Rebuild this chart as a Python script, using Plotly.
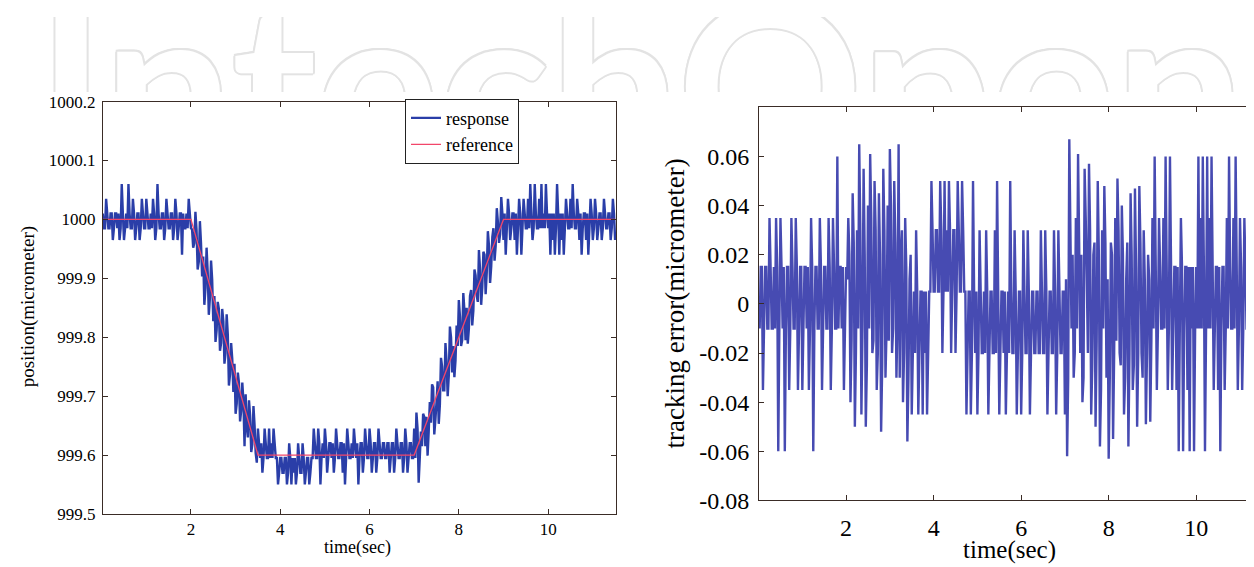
import plotly.graph_objects as go

# ---------------- data ----------------
SAMPLE_STEP_S = 0.025  # sampling period of the recorded signals

tracking_error = [
    # 0.025 .. 2.000 s
    -0.01, 0.015, 0.015, -0.035, -0.01, 0.015, 0.015, -0.01, -0.01, 0.035,
    0.015, -0.01, -0.01, 0.015, -0.01, 0.035, 0.015, -0.06, -0.01, 0.035,
    0.015, -0.01, 0.015, -0.06, -0.01, 0.015, 0.015, -0.035, -0.01, 0.035,
    0.015, -0.01, -0.01, 0.035, 0.015, -0.035, -0.01, 0.015, 0.015, -0.035,
    -0.01, 0.015, 0.015, -0.01, 0.015, -0.035, -0.01, 0.035, 0.015, -0.06,
    -0.01, 0.015, 0.015, -0.01, -0.01, 0.035, 0.015, -0.035, -0.01, 0.015,
    0.015, -0.01, -0.01, 0.035, 0.015, -0.035, -0.01, 0.035, 0.015, -0.01,
    -0.01, 0.06, -0.01, 0.015, 0.015, -0.01, 0.015, -0.035, -0.01, 0.015,
    # 2.025 .. 3.500 s
    0.01, 0.035, 0.02, -0.04, -0.015, 0.045, 0.025, -0.05, -0.02, 0.03,
    -0.01, 0.065, 0.03, -0.045, -0.01, 0.055, 0.02, -0.05, -0.025, 0.04,
    -0.01, 0.061, 0.035, -0.02, -0.015, 0.05, 0.03, -0.035, -0.02, 0.045,
    0.02, -0.052, -0.025, 0.055, 0.03, -0.03, -0.01, 0.04, -0.015, 0.063,
    0.04, -0.02, -0.01, 0.05, 0.025, -0.03, -0.005, 0.065, -0.03, 0.02,
    0.03, -0.04, -0.02, 0.035, 0.015, -0.056, -0.03, 0.01, 0.02, -0.045,
    # 3.525 .. 7.000 s
    -0.02, 0.005, -0.02, 0.03, 0.005, -0.045, -0.02, 0.005, 0.005, -0.045,
    0.005, -0.02, 0.005, -0.045, -0.02, 0.005, 0.005, 0.05, 0.03, 0.005,
    0.005, 0.03, 0.03, 0.005, 0.005, 0.05, 0.03, -0.02, 0.005, 0.05,
    0.005, 0.03, 0.005, 0.05, 0.03, -0.02, 0.005, 0.03, 0.03, -0.02,
    0.005, 0.05, 0.03, 0.005, 0.005, 0.05, 0.03, 0.005, 0.005, -0.045,
    -0.02, 0.005, 0.005, -0.045, -0.02, 0.05, 0.005, -0.02, 0.005, -0.045,
    -0.02, 0.03, 0.005, -0.02, -0.02, 0.005, -0.02, 0.03, 0.005, -0.045,
    -0.02, 0.005, 0.005, -0.02, -0.02, 0.03, -0.02, 0.05, 0.005, -0.045,
    -0.02, 0.005, 0.005, -0.02, 0.005, -0.045, -0.02, 0.005, -0.02, 0.05,
    0.005, -0.02, -0.02, 0.03, 0.005, -0.045, -0.02, 0.005, 0.005, -0.045,
    -0.02, 0.03, 0.005, -0.02, -0.02, 0.03, 0.005, -0.045, -0.02, 0.005,
    0.005, -0.02, -0.02, 0.005, 0.005, -0.02, -0.02, 0.03, 0.005, -0.02,
    -0.02, 0.03, 0.005, -0.045, -0.02, 0.005, 0.005, -0.02, -0.02, 0.03,
    0.005, -0.045, -0.02, 0.03, 0.005, -0.02, -0.02, 0.005, 0.005, -0.045,
    # 7.025 .. 9.000 s
    0.01, -0.062, -0.03, 0.067, 0.03, -0.01, 0.02, -0.03, -0.02, 0.035,
    -0.01, 0.061, 0.025, -0.02, 0.02, -0.04, -0.03, 0.055, 0.035, 0.01,
    -0.02, 0.057, 0.03, -0.045, -0.025, 0.02, 0.025, -0.05, -0.015, 0.05,
    0.02, -0.058, -0.035, 0.03, -0.01, 0.048, 0.025, -0.03, 0.01, -0.063,
    -0.03, 0.025, 0.02, -0.055, -0.02, 0.035, -0.015, 0.051, 0.03, -0.02,
    -0.025, 0.04, 0.02, -0.045, -0.03, 0.01, 0.025, -0.058, -0.02, 0.045,
    0.02, -0.035, -0.025, 0.047, 0.015, -0.05, -0.02, 0.048, 0.025, -0.02,
    -0.03, 0.03, 0.01, -0.049, -0.02, 0.02, 0.01, -0.048, -0.015, 0.035,
    # 9.025 .. 11.500 s
    -0.01, 0.06, 0.015, -0.035, -0.01, 0.035, 0.015, -0.01, -0.01, 0.035,
    -0.01, 0.06, 0.015, -0.035, -0.01, 0.06, 0.015, -0.035, -0.01, 0.015,
    0.015, -0.035, 0.015, -0.06, -0.01, 0.035, 0.015, -0.06, -0.01, 0.015,
    0.015, -0.035, 0.015, -0.06, 0.015, -0.01, 0.015, -0.06, -0.01, 0.015,
    -0.01, 0.06, -0.01, 0.035, -0.01, 0.06, 0.015, -0.06, -0.01, 0.06,
    -0.01, 0.035, -0.01, 0.06, 0.015, -0.035, -0.01, 0.015, 0.015, -0.035,
    0.015, -0.06, -0.01, 0.015, 0.015, -0.035, -0.01, 0.035, -0.01, 0.06,
    0.015, -0.01, -0.01, 0.035, -0.01, 0.06, 0.015, -0.035, -0.01, 0.035,
    0.015, -0.035, -0.01, 0.035, 0.015, -0.01, -0.01, 0.035, 0.015, -0.035,
    -0.01, 0.015, 0.015, -0.01, -0.01, 0.035, 0.015, -0.035, -0.01, 0.035,
]

position_response = [
    # 0.025 .. 2.000 s
    1000.01, 999.985, 999.985, 1000.035, 1000.01, 999.985, 999.985, 1000.01, 1000.01, 999.965,
    999.985, 1000.01, 1000.01, 999.985, 1000.01, 999.965, 999.985, 1000.06, 1000.01, 999.965,
    999.985, 1000.01, 999.985, 1000.06, 1000.01, 999.985, 999.985, 1000.035, 1000.01, 999.965,
    999.985, 1000.01, 1000.01, 999.965, 999.985, 1000.035, 1000.01, 999.985, 999.985, 1000.035,
    1000.01, 999.985, 999.985, 1000.01, 999.985, 1000.035, 1000.01, 999.965, 999.985, 1000.06,
    1000.01, 999.985, 999.985, 1000.01, 1000.01, 999.965, 999.985, 1000.035, 1000.01, 999.985,
    999.985, 1000.01, 1000.01, 999.965, 999.985, 1000.035, 1000.01, 999.965, 999.985, 1000.01,
    1000.01, 999.94, 1000.01, 999.985, 999.985, 1000.01, 999.985, 1000.035, 1000.01, 999.985,
    # 2.025 .. 3.500 s
    999.983, 999.952, 999.96, 1000.013, 999.982, 999.915, 999.928, 999.997, 999.96, 999.903,
    999.937, 999.855, 999.883, 999.952, 999.91, 999.838, 999.867, 999.93, 999.898, 999.827,
    999.87, 999.792, 999.812, 999.86, 999.848, 999.777, 999.79, 999.848, 999.827, 999.755,
    999.773, 999.839, 999.805, 999.718, 999.737, 999.79, 999.763, 999.707, 999.755, 999.67,
    999.687, 999.74, 999.723, 999.657, 999.675, 999.723, 999.692, 999.615, 999.703, 999.647,
    999.63, 999.693, 999.667, 999.605, 999.618, 999.683, 999.65, 999.603, 999.587, 999.645,
    # 3.525 .. 7.000 s
    999.62, 999.595, 999.62, 999.57, 999.595, 999.645, 999.62, 999.595, 999.595, 999.645,
    999.595, 999.62, 999.595, 999.645, 999.62, 999.595, 999.595, 999.55, 999.57, 999.595,
    999.595, 999.57, 999.57, 999.595, 999.595, 999.55, 999.57, 999.62, 999.595, 999.55,
    999.595, 999.57, 999.595, 999.55, 999.57, 999.62, 999.595, 999.57, 999.57, 999.62,
    999.595, 999.55, 999.57, 999.595, 999.595, 999.55, 999.57, 999.595, 999.595, 999.645,
    999.62, 999.595, 999.595, 999.645, 999.62, 999.55, 999.595, 999.62, 999.595, 999.645,
    999.62, 999.57, 999.595, 999.62, 999.62, 999.595, 999.62, 999.57, 999.595, 999.645,
    999.62, 999.595, 999.595, 999.62, 999.62, 999.57, 999.62, 999.55, 999.595, 999.645,
    999.62, 999.595, 999.595, 999.62, 999.595, 999.645, 999.62, 999.595, 999.62, 999.55,
    999.595, 999.62, 999.62, 999.57, 999.595, 999.645, 999.62, 999.595, 999.595, 999.645,
    999.62, 999.57, 999.595, 999.62, 999.62, 999.57, 999.595, 999.645, 999.62, 999.595,
    999.595, 999.62, 999.62, 999.595, 999.595, 999.62, 999.62, 999.57, 999.595, 999.62,
    999.62, 999.57, 999.595, 999.645, 999.62, 999.595, 999.595, 999.62, 999.62, 999.57,
    999.595, 999.645, 999.62, 999.57, 999.595, 999.62, 999.62, 999.595, 999.595, 999.645,
    # 7.025 .. 9.000 s
    999.595, 999.672, 999.645, 999.553, 999.595, 999.64, 999.615, 999.67, 999.665, 999.615,
    999.665, 999.599, 999.64, 999.69, 999.655, 999.72, 999.715, 999.635, 999.66, 999.69,
    999.725, 999.653, 999.685, 999.765, 999.75, 999.71, 999.71, 999.79, 999.76, 999.70,
    999.735, 999.818, 999.80, 999.74, 999.785, 999.732, 999.76, 999.82, 999.785, 999.863,
    999.835, 999.785, 999.795, 999.875, 999.845, 999.795, 999.85, 999.789, 999.815, 999.87,
    999.88, 999.82, 999.845, 999.915, 999.905, 999.87, 999.86, 999.948, 999.915, 999.855,
    999.885, 999.945, 999.94, 999.873, 999.91, 999.98, 999.955, 999.892, 999.92, 999.97,
    999.985, 999.93, 999.955, 1000.019, 999.995, 999.96, 999.975, 1000.038, 1000.01, 999.965,
    # 9.025 .. 11.500 s
    1000.01, 999.94, 999.985, 1000.035, 1000.01, 999.965, 999.985, 1000.01, 1000.01, 999.965,
    1000.01, 999.94, 999.985, 1000.035, 1000.01, 999.94, 999.985, 1000.035, 1000.01, 999.985,
    999.985, 1000.035, 999.985, 1000.06, 1000.01, 999.965, 999.985, 1000.06, 1000.01, 999.985,
    999.985, 1000.035, 999.985, 1000.06, 999.985, 1000.01, 999.985, 1000.06, 1000.01, 999.985,
    1000.01, 999.94, 1000.01, 999.965, 1000.01, 999.94, 999.985, 1000.06, 1000.01, 999.94,
    1000.01, 999.965, 1000.01, 999.94, 999.985, 1000.035, 1000.01, 999.985, 999.985, 1000.035,
    999.985, 1000.06, 1000.01, 999.985, 999.985, 1000.035, 1000.01, 999.965, 1000.01, 999.94,
    999.985, 1000.01, 1000.01, 999.965, 1000.01, 999.94, 999.985, 1000.035, 1000.01, 999.965,
    999.985, 1000.035, 1000.01, 999.965, 999.985, 1000.01, 1000.01, 999.965, 999.985, 1000.035,
    1000.01, 999.985, 999.985, 1000.01, 1000.01, 999.965, 999.985, 1000.035, 1000.01, 999.965,
]

reference_time = [0.0, 2.0, 3.5, 7.0, 9.0, 11.5]
reference_position = [1000.0, 1000.0, 999.6, 999.6, 1000.0, 1000.0]

time_sec = [round(SAMPLE_STEP_S * (i + 1), 3) for i in range(len(tracking_error))]

time_ticks = [2, 4, 6, 8, 10]
time_tick_labels = ["2", "4", "6", "8", "10"]
pos_ticks = [999.5, 999.6, 999.7, 999.8, 999.9, 1000.0, 1000.1, 1000.2]
pos_tick_labels = ["999.5", "999.6", "999.7", "999.8", "999.9", "1000", "1000.1", "1000.2"]
err_ticks = [-0.08, -0.06, -0.04, -0.02, 0.0, 0.02, 0.04, 0.06]
err_tick_labels = ["-0.08", "-0.06", "-0.04", "-0.02", "0", "0.02", "0.04", "0.06"]

watermark_text = "IntechOpen"

# ---------------- styling ----------------
W, H = 1254, 567
SERIF = "Liberation Serif"
FRAME = "#3a2c26"
RESP_COLOR = "#2a3ea8"
REF_COLOR = "#f2466a"
ERR_COLOR = "#474bb2"
WM_GRAY = "#e3e3e3"


def px_x(p):
    return p / W


def px_y(p):
    return 1 - p / H


fig = go.Figure()

fig.add_trace(go.Scatter(
    x=time_sec, y=position_response, mode="lines", name="response",
    line=dict(color=RESP_COLOR, width=2.4, simplify=False), xaxis="x", yaxis="y",
))
fig.add_trace(go.Scatter(
    x=reference_time, y=reference_position, mode="lines", name="reference",
    line=dict(color=REF_COLOR, width=1.3), xaxis="x", yaxis="y",
))
fig.add_trace(go.Scatter(
    x=time_sec, y=tracking_error, mode="lines", name="tracking error",
    line=dict(color=ERR_COLOR, width=2.4, simplify=False), xaxis="x2", yaxis="y2", showlegend=False,
))

# watermark, clipped to a strip at the top of the page
shadow = ", ".join(f"{dx}px {dy}px 0 {WM_GRAY}" for dx, dy in
                   [(2, 0), (-2, 0), (0, 2), (0, -2), (1.5, 1.5), (-1.5, -1.5), (1.5, -1.5), (-1.5, 1.5)])
fig.add_trace(go.Scatter(
    x=[0.5045], y=[-0.27], mode="text", text=[watermark_text], textposition="middle center",
    textfont=dict(family="Lato", size=230, color="white", weight="bold", shadow=shadow),
    cliponaxis=True, xaxis="x3", yaxis="y3", showlegend=False, hoverinfo="skip",
))

axis_common = dict(
    showline=True, linecolor=FRAME, linewidth=1, mirror="ticks",
    ticks="inside", ticklen=5, tickwidth=1, tickcolor=FRAME,
    showgrid=False, zeroline=False,
)

fig.update_layout(
    width=W, height=H,
    margin=dict(l=0, r=0, t=0, b=0),
    paper_bgcolor="white", plot_bgcolor="white",
    font=dict(family=SERIF, color="black"),
    showlegend=True,
    legend=dict(
        x=px_x(397), y=px_y(85), xanchor="left", yanchor="top",
        bgcolor="white", bordercolor="#222222", borderwidth=1,
        font=dict(family=SERIF, size=18, color="black"),
    ),
    xaxis=dict(
        domain=[px_x(95), px_x(608)], range=[0.03, 11.52], anchor="y",
        tickvals=time_ticks, ticktext=time_tick_labels,
        tickfont=dict(family=SERIF, size=17, color="black"), **axis_common,
    ),
    yaxis=dict(
        domain=[px_y(517), px_y(88)], range=[999.5, 1000.2], anchor="x",
        tickvals=pos_ticks, ticktext=pos_tick_labels, ticklabelstandoff=3,
        tickfont=dict(family=SERIF, size=17, color="black"), **axis_common,
    ),
    xaxis2=dict(
        domain=[px_x(751), px_x(1253)], range=[0.01, 11.48], anchor="y2",
        tickvals=time_ticks, ticktext=time_tick_labels, ticklabelstandoff=6,
        tickfont=dict(family=SERIF, size=24, color="black"), **axis_common,
    ),
    yaxis2=dict(
        domain=[px_y(503), px_y(94)], range=[-0.08, 0.08], anchor="x2",
        tickvals=err_ticks, ticktext=err_tick_labels, ticklabelstandoff=4,
        tickfont=dict(family=SERIF, size=24, color="black"), **axis_common,
    ),
    xaxis3=dict(domain=[0, 1], range=[0, 1], anchor="y3", visible=False, fixedrange=True),
    yaxis3=dict(domain=[px_y(78), 1], range=[0, 1], anchor="x3", visible=False, fixedrange=True),
    annotations=[
        dict(text="position(micrometer)", x=px_x(20), y=px_y(302), xref="paper", yref="paper",
             xanchor="center", yanchor="middle", textangle=-90, showarrow=False,
             font=dict(family=SERIF, size=19, color="black")),
        dict(text="time(sec)", x=px_x(349), y=px_y(552), xref="paper", yref="paper",
             xanchor="center", yanchor="middle", showarrow=False,
             font=dict(family=SERIF, size=18, color="black")),
        dict(text="tracking error(micrometer)", x=px_x(667), y=px_y(298), xref="paper", yref="paper",
             xanchor="center", yanchor="middle", textangle=-90, showarrow=False,
             font=dict(family=SERIF, size=27, color="black")),
        dict(text="time(sec)", x=px_x(1001), y=px_y(554), xref="paper", yref="paper",
             xanchor="center", yanchor="middle", showarrow=False,
             font=dict(family=SERIF, size=25, color="black")),
    ],
)

fig.write_html("out.html")
